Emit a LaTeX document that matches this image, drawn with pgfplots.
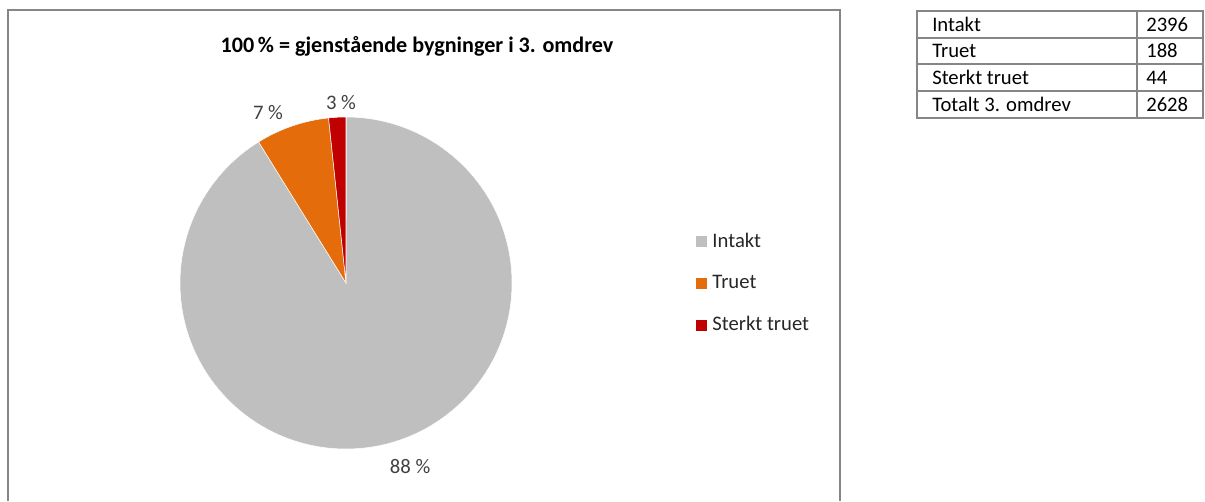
\documentclass[border=0pt]{standalone}
\usepackage{fontspec}
\setmainfont{Carlito}
\usepackage{pgfplots}
\usepackage{pgfplotstable}
\pgfplotsset{compat=1.18}
\definecolor{cIntakt}{RGB}{191,191,191}
\definecolor{cTruet}{RGB}{228,108,10}
\definecolor{cSterkt}{RGB}{192,0,0}
\definecolor{frame}{RGB}{134,134,134}
\definecolor{lbl}{RGB}{64,64,64}
\pgfplotstableread{
label value
Intakt 2396
Truet 188
Sterkt 44
}\piedata
\pgfplotstablegetelem{0}{value}\of\piedata \edef\va{\pgfplotsretval}
\pgfplotstablegetelem{1}{value}\of\piedata \edef\vb{\pgfplotsretval}
\pgfplotstablegetelem{2}{value}\of\piedata \edef\vc{\pgfplotsretval}
\pgfmathsetmacro\total{\va+\vb+\vc}
\pgfmathsetmacro\aA{90-360*(\va/\total)}
\pgfmathsetmacro\aB{\aA-360*(\vb/\total)}
\pgfmathsetmacro\aC{\aB-360*(\vc/\total)}
\pgfmathsetmacro\xA{cos(\aA)}\pgfmathsetmacro\yA{sin(\aA)}
\pgfmathsetmacro\xB{cos(\aB)}\pgfmathsetmacro\yB{sin(\aB)}
\begin{document}
\begin{tikzpicture}[x=0.75pt,y=0.75pt]
\path[use as bounding box] (0,0) rectangle (1205,501);
% chart frame
\draw[frame, line width=1.1pt] (8,0) -- (8,491) -- (840,491) -- (840,0);
% title
\node[font=\bfseries\fontsize{16.6}{19}\selectfont] at (417,455) {100\,\% = gjenstående bygninger i 3. omdrev};
\begin{axis}[at={(259.5pt,163.5pt)}, anchor=center, hide axis, scale only axis,
  width=249pt, height=249pt, xmin=-1, xmax=1, ymin=-1, ymax=1, clip=false,
  legend style={at={(1.554,0.5)}, anchor=west, draw=none, fill=none,
    font=\fontsize{15.5}{18}\selectfont, row sep=15.5pt, inner sep=0pt,
    cells={anchor=west}, text=lbl!60!black},
  legend image code/.code={\fill[#1] (0pt,-3.75pt) rectangle (7.5pt,3.75pt); \path (9.8pt,0pt);},
  ]
\addlegendimage{cIntakt}\addlegendentry{Intakt}
\addlegendimage{cTruet}\addlegendentry{Truet}
\addlegendimage{cSterkt}\addlegendentry{Sterkt truet}
\fill[cIntakt, draw=white, line width=0.4pt] (axis cs:0,0) -- (axis cs:0,1) arc[start angle=90, end angle=\aA, radius=124.5pt] -- cycle;
\fill[cTruet, draw=white, line width=0.4pt] (axis cs:0,0) -- (axis cs:\xA,\yA) arc[start angle=\aA, end angle=\aB, radius=124.5pt] -- cycle;
\fill[cSterkt, draw=white, line width=0.4pt] (axis cs:0,0) -- (axis cs:\xB,\yB) arc[start angle=\aB, end angle=\aC, radius=124.5pt] -- cycle;
\node[font=\fontsize{15.5}{18}\selectfont, text=lbl] at (axis cs:-0.03,1.09) {3 \%};
\node[font=\fontsize{15.5}{18}\selectfont, text=lbl] at (axis cs:-0.47,1.024) {7 \%};
\node[font=\fontsize{15.5}{18}\selectfont, text=lbl] at (axis cs:0.386,-1.108) {88 \%};
\end{axis}
% table
\draw[frame, line width=1.1pt] (917,490) rectangle (1203,383);
\foreach \yy in {463,437,410} \draw[frame, line width=1.1pt] (917,\yy) -- (1203,\yy);
\draw[frame, line width=1.1pt] (1137,490) -- (1137,383);
\begin{scope}[every node/.style={anchor=west, font=\fontsize{15.5}{18}\selectfont, inner sep=0pt}]
\node at (932,476.5) {Intakt};
\node at (932,450) {Truet};
\node at (932,423.5) {Sterkt truet};
\node at (932,396.5) {Totalt 3. omdrev};
\node at (1146,476.5) {2396};
\node at (1146,450) {188};
\node at (1146,423.5) {44};
\node at (1146,396.5) {2628};
\end{scope}
\end{tikzpicture}
\end{document}
